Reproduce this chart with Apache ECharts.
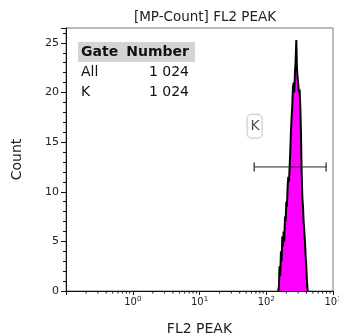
<!DOCTYPE html>
<html>
<head>
<meta charset="utf-8">
<script src="https://cdn.jsdelivr.net/npm/echarts@6/dist/echarts.min.js"></script>
<style>
  html, body { margin: 0; padding: 0; background: #fff; }
  #chart { width: 339px; height: 336px; }
</style>
</head>
<body>
<div id="chart"></div>
<script>
var FONT = 'DejaVu Sans';

// histogram of FL2 PEAK, bin position (FL2 value) and count
var fl2Bins = [151, 155, 158, 162, 166, 170, 174, 178, 182, 186, 191, 195, 200, 204, 209,
  214, 219, 224, 229, 234, 240, 245, 251, 257, 263, 269, 275, 282, 288, 295, 302, 309,
  316, 324, 331, 339, 347, 355, 363, 372, 380, 389, 398, 407, 417];
var counts = [0, 0.5, 2.5, 1.5, 4, 3, 5.5, 4.5, 6, 5, 7.5, 7, 9, 8.5, 10.5,
  11.5, 11, 12.5, 14, 16, 17.5, 18.5, 20.5, 21, 20, 22, 23, 25.3, 22.5, 21.5, 21.6, 20,
  20.3, 18.5, 16, 12, 9.5, 8.5, 7, 6, 5, 3.5, 2.5, 1, 0];

// gate K (range marker)
var gateRange = [66, 788];
var gateLevel = 12.5;
var gateLabelPos = [67, 16.6];

// statistics table
var statHeader = ['Gate', 'Number'];
var statGates = ['All', 'K'];
var statNumbers = ['1 024', '1 024'];

// log minor tick multipliers
var decades = [0.1, 1, 10, 100];
var minorMult = [2, 3, 4, 5, 6, 7, 8, 9];

var chart = echarts.init(document.getElementById('chart'));

var histData = fl2Bins.map(function (x, i) { return [x, counts[i]]; });
var minorTicks = [];
decades.forEach(function (d) {
  minorMult.forEach(function (m) { minorTicks.push([d * m, 0]); });
});

var tableGraphic = [
  { type: 'rect', shape: { x: 78, y: 42, width: 117, height: 20 }, style: { fill: '#d4d4d4' } },
  { type: 'text', x: 81, y: 52, style: { text: statHeader[0], font: 'bold 14px ' + FONT, fill: '#111', verticalAlign: 'middle' } },
  { type: 'text', x: 189, y: 52, style: { text: statHeader[1], font: 'bold 14px ' + FONT, fill: '#111', align: 'right', verticalAlign: 'middle' } }
];
statGates.forEach(function (g, i) {
  tableGraphic.push({ type: 'text', x: 81, y: 72 + i * 20, style: { text: g, font: '14px ' + FONT, fill: '#111', verticalAlign: 'middle' } });
  tableGraphic.push({ type: 'text', x: 189, y: 72 + i * 20, style: { text: statNumbers[i], font: '14px ' + FONT, fill: '#111', align: 'right', verticalAlign: 'middle' } });
});

var option = {
  animation: false,
  backgroundColor: '#fff',
  title: {
    text: '[MP-Count] FL2 PEAK',
    left: 200,
    textAlign: 'center',
    top: 5,
    textStyle: { fontFamily: FONT, fontSize: 13.5, fontWeight: 'normal', color: '#222' }
  },
  grid: {
    left: 66, right: 6, top: 28, bottom: 45,
    outerBoundsMode: 'none',
    containLabel: false,
    show: true, borderColor: '#777', borderWidth: 1
  },
  xAxis: {
    type: 'log',
    logBase: 10,
    min: 0.1,
    max: 1000,
    name: 'FL2 PEAK',
    nameLocation: 'middle',
    nameGap: 31,
    nameTextStyle: { fontFamily: FONT, fontSize: 14, color: '#222' },
    axisLine: { lineStyle: { color: '#111' } },
    axisTick: { length: 4, lineStyle: { color: '#111' } },
    splitLine: { show: false },
    axisLabel: {
      margin: 5,
      color: '#222',
      fontFamily: FONT,
      fontSize: 10,
      formatter: function (v) {
        var e = Math.round(Math.log10(v));
        if (e < 0) return '';
        return '10{s|' + e + '}';
      },
      rich: { s: { fontSize: 7, verticalAlign: 'top', padding: [0, 0, 5, 0], fontFamily: FONT, color: '#222' } }
    }
  },
  yAxis: {
    type: 'value',
    min: 0,
    max: 26.5,
    interval: 5,
    name: 'Count',
    nameLocation: 'middle',
    nameGap: 42,
    nameTextStyle: { fontFamily: FONT, fontSize: 14, color: '#222' },
    axisLine: { show: true, lineStyle: { color: '#111' } },
    axisTick: { show: true, length: 5, lineStyle: { color: '#111' } },
    minorTick: { show: true, splitNumber: 5, length: 3, lineStyle: { color: '#111' } },
    splitLine: { show: false },
    axisLabel: {
      margin: 7,
      color: '#222',
      fontFamily: FONT,
      fontSize: 11,
      formatter: function (v) { return v % 5 === 0 ? String(v) : ''; }
    }
  },
  graphic: tableGraphic,
  series: [
    {
      type: 'line',
      data: histData,
      symbol: 'none',
      lineStyle: { color: '#000', width: 2 },
      areaStyle: { color: '#ff00ff', opacity: 1 },
      z: 2
    },
    {
      type: 'line',
      data: [[gateRange[0], gateLevel], [gateRange[1], gateLevel]],
      symbol: 'rect',
      symbolSize: [1.2, 9],
      itemStyle: { color: '#222' },
      lineStyle: { color: '#222', width: 1 },
      z: 3
    },
    {
      type: 'scatter',
      data: [gateLabelPos],
      symbolSize: 0,
      label: {
        show: true,
        position: 'inside',
        formatter: 'K',
        fontFamily: FONT,
        fontSize: 14,
        color: '#222',
        backgroundColor: '#fff',
        borderColor: '#bbb',
        borderWidth: 1,
        borderRadius: 4,
        padding: [5, 2, 4, 3]
      },
      z: 4
    },
    {
      type: 'custom',
      data: minorTicks,
      clip: false,
      renderItem: function (params, api) {
        var p = api.coord([api.value(0), 0]);
        return {
          type: 'line',
          shape: { x1: p[0], y1: p[1], x2: p[0], y2: p[1] + 2.5 },
          style: { stroke: '#111', lineWidth: 1 }
        };
      },
      z: 5
    }
  ]
};

chart.setOption(option);
</script>
</body>
</html>
